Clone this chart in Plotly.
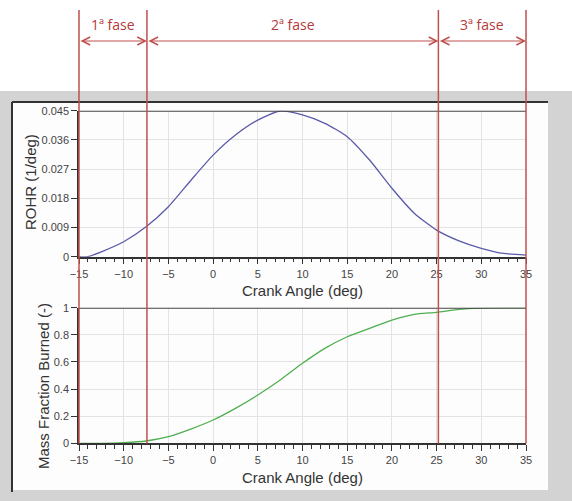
import plotly.graph_objects as go

# ---- data ----
crank_rohr = [-15, -14, -12.5, -10, -7.5, -5, -2.5, 0, 2.5, 5, 7.5, 10, 12.5, 15, 17.5, 20, 22.5, 25, 27.5, 30, 32.5, 35]
rohr = [0, 0, 0.0015, 0.0046, 0.0092, 0.0154, 0.0235, 0.0313, 0.0375, 0.0421, 0.0449, 0.0437, 0.0411, 0.0370,
        0.0298, 0.0211, 0.0134, 0.0082, 0.0049, 0.0026, 0.0010, 0.0005]
crank_mfb = [-15, -12.5, -10, -7.5, -5, -2.5, 0, 2.5, 5, 7.5, 10, 12.5, 15, 17.5, 20, 22.5, 25, 27.5, 30, 32.5, 35]
mfb = [0, 0, 0.005, 0.017, 0.049, 0.105, 0.172, 0.258, 0.356, 0.467, 0.59, 0.70, 0.786, 0.848, 0.909, 0.951,
       0.966, 0.988, 0.997, 1.0, 1.0]
phase_bounds = [-15, -7.4, 25.2, 35]
phase_labels = ["1ª fase", "2ª fase", "3ª fase"]
rohr_ticks = [0, 0.009, 0.018, 0.027, 0.036, 0.045]
mfb_ticks = [0, 0.2, 0.4, 0.6, 0.8, 1]

W, H = 572, 501
def px(x):
    return x / W
def py(y):
    return 1 - y / H

RED = "#c0504d"
TXT = "#b5393a"
FONT = "Liberation Sans, Arial, sans-serif"

fig = go.Figure()
fig.add_trace(go.Scatter(x=crank_rohr, y=rohr, mode="lines", line=dict(color="#5a5aaa", width=1.3, shape="spline", smoothing=0.6),
                         xaxis="x", yaxis="y", showlegend=False))
fig.add_trace(go.Scatter(x=crank_mfb, y=mfb, mode="lines", line=dict(color="#4fae4f", width=1.3, shape="spline", smoothing=0.5),
                         xaxis="x2", yaxis="y2", showlegend=False))

xdom = [px(79), px(526)]
common_x = dict(range=[-15, 35], dtick=5, tick0=-15, showgrid=True, gridcolor="#e3e3e3", gridwidth=1,
                showline=True, linecolor="#333", linewidth=1.5, ticks="outside", ticklen=6, tickcolor="#333",
                minor=dict(dtick=1, ticks="outside", ticklen=4, tickcolor="#333", showgrid=False),
                tickfont=dict(family=FONT, size=11, color="#444"), zeroline=False, domain=xdom, fixedrange=True,
                automargin=False)
common_y = dict(showgrid=True, gridcolor="#e3e3e3", gridwidth=1, showline=True, linecolor="#333", linewidth=1.5,
                ticks="outside", ticklen=6, tickcolor="#333", tickfont=dict(family=FONT, size=11, color="#444"),
                zeroline=False, fixedrange=True, automargin=False)

fig.update_layout(
    width=W, height=H, margin=dict(l=0, r=0, t=0, b=0, pad=0, autoexpand=False),
    paper_bgcolor="white", plot_bgcolor="rgba(0,0,0,0)",
    xaxis=dict(**common_x, anchor="y"),
    yaxis=dict(**common_y, range=[0, 0.045], tickvals=rohr_ticks, ticktext=["0", "0.009", "0.018", "0.027", "0.036", "0.045"],
               domain=[py(256.7), py(110.7)], anchor="x"),
    xaxis2=dict(**common_x, anchor="y2"),
    yaxis2=dict(**common_y, range=[0, 1], tickvals=mfb_ticks, ticktext=["0", "0.2", "0.4", "0.6", "0.8", "1"],
                domain=[py(443.3), py(307.7)], anchor="x2"),
    showlegend=False,
)

shapes = []
# gray window background and white panel
shapes.append(dict(type="rect", xref="paper", yref="paper", x0=0, x1=1, y0=0, y1=py(91),
                   fillcolor="#d3d3d3", line=dict(width=0), layer="below"))
shapes.append(dict(type="rect", xref="paper", yref="paper", x0=px(12), x1=px(548), y0=py(490), y1=py(102),
                   fillcolor="#fdfdfd", line=dict(width=0), layer="below"))
shapes.append(dict(type="line", xref="paper", yref="paper", x0=px(12), x1=px(548), y0=py(102), y1=py(102),
                   line=dict(color="#333", width=2), layer="below"))
shapes.append(dict(type="line", xref="paper", yref="paper", x0=px(12), x1=px(12), y0=py(492), y1=py(102),
                   line=dict(color="#333", width=2), layer="below"))
# top borders of plots
shapes.append(dict(type="line", xref="x", yref="y", x0=-15, x1=35, y0=0.045, y1=0.045, line=dict(color="#444", width=2)))
shapes.append(dict(type="line", xref="x2", yref="y2", x0=-15, x1=35, y0=1, y1=1, line=dict(color="#444", width=2)))
fig.update_layout(shapes=shapes)

ann = []
# red phase lines (annotation arrows, not clipped to the plot area)
for b in phase_bounds:
    ann.append(dict(x=b, y=py(10), xref="x", yref="paper", ax=b, ay=435, axref="x", ayref="pixel",
                    showarrow=True, arrowhead=0, arrowwidth=1.5, arrowcolor=RED, text="", standoff=0, startstandoff=0))
for i, lab in enumerate(phase_labels):
    a, b = phase_bounds[i], phase_bounds[i + 1]
    ann.append(dict(x=b, y=py(41), xref="x", yref="paper", ax=a, ay=0, axref="x", ayref="pixel",
                    showarrow=True, arrowhead=5, startarrowhead=5, arrowside="end+start", arrowsize=1.3,
                    startarrowsize=1.3, arrowwidth=1.2, arrowcolor=RED, text="", standoff=0, startstandoff=0))
    ann.append(dict(x=(a + b) / 2, y=py(25), xref="x", yref="paper", text=lab, showarrow=False,
                    xanchor="center", yanchor="middle",
                    font=dict(family="Open Sans, sans-serif", size=14, color=TXT)))
# axis titles
for yy in (290, 477):
    ann.append(dict(x=px(302.5), y=py(yy), xref="paper", yref="paper", text="Crank Angle (deg)", showarrow=False,
                    xanchor="center", yanchor="middle", font=dict(family=FONT, size=15, color="#333")))
ann.append(dict(x=px(30), y=py(182), xref="paper", yref="paper", text="ROHR (1/deg)", showarrow=False, textangle=-90,
                xanchor="center", yanchor="middle", font=dict(family=FONT, size=15, color="#333")))
ann.append(dict(x=px(43), y=py(386), xref="paper", yref="paper", text="Mass Fraction Burned (-)", showarrow=False,
                textangle=-90, xanchor="center", yanchor="middle", font=dict(family=FONT, size=15, color="#333")))
fig.update_layout(annotations=ann)

fig.write_html("out.html")
